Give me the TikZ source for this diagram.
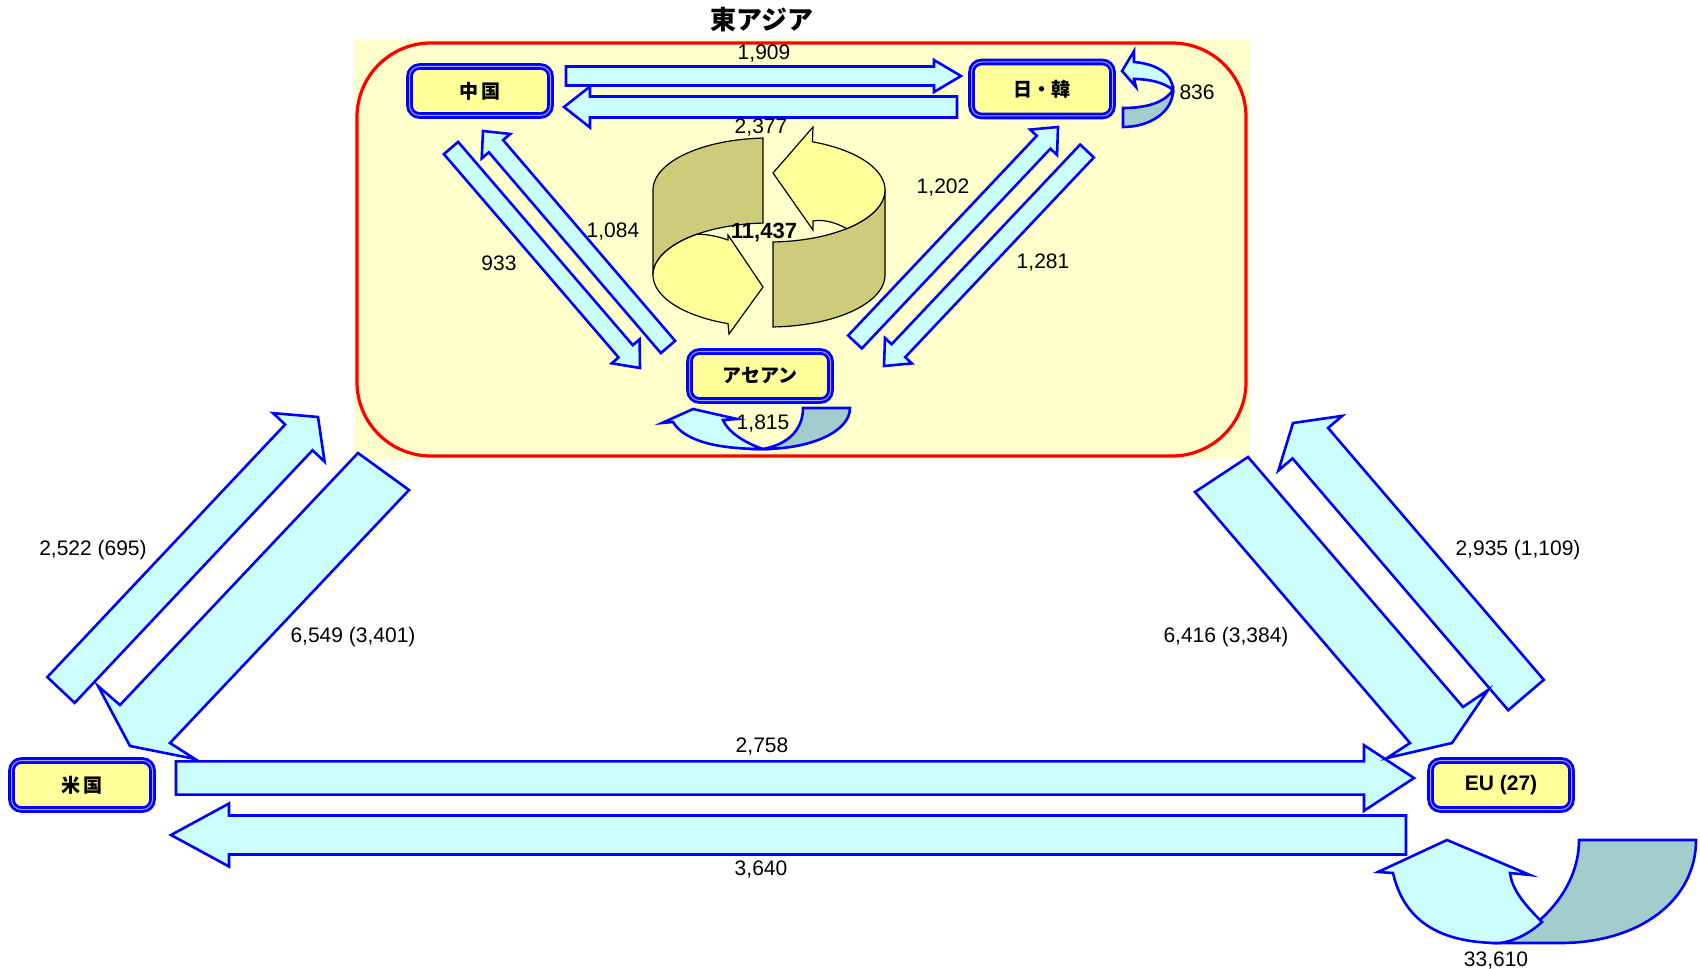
\documentclass[tikz,border=0pt]{standalone}
\usepackage{fontspec}
\setmainfont{Liberation Sans}
\newfontfamily\jpfont{Noto Sans CJK JP}
\usetikzlibrary{calc}
\definecolor{bgyel}{HTML}{FFFFCC}
\definecolor{boxyel}{HTML}{FFFF99}
\definecolor{flowcyan}{HTML}{CCFFFF}
\definecolor{loopteal}{HTML}{A3CCCC}
\definecolor{drum}{HTML}{CCCC7A}
\tikzset{
  cntry/.style={draw=blue,double=blue!35,double distance=0.5pt,line width=1.4pt,rounded corners=5pt,fill=boxyel,minimum width=70.5pt,minimum height=24.5pt,inner sep=0pt},
  jplbl/.style={font=\jpfont\bfseries\fontsize{9.5}{11}\selectfont},
  enlbl/.style={font=\bfseries\fontsize{10.5}{12}\selectfont},
  flow/.style={draw=blue,line width=1.3pt,fill=flowcyan,line join=miter},
  loopback/.style={draw=blue,line width=1.3pt,fill=loopteal},
  loopfront/.style={draw=blue,line width=1.3pt,fill=flowcyan},
  drumside/.style={draw=black,line width=0.6pt,fill=drum},
  drumtop/.style={draw=black,line width=0.6pt,fill=boxyel},
  num/.style={font=\fontsize{10.5}{12}\selectfont,inner sep=0pt}
}
% tail, tip, half shaft, half head, head length
\newcommand{\blockarr}[5]{%
  \coordinate (hb) at ($(#2)!#5!(#1)$);
  \draw[flow] ($(#1)!#3!90:(#2)$) -- ($(hb)!#3!90:(#2)$) -- ($(hb)!#4!90:(#2)$) -- (#2)
    -- ($(hb)!#4!-90:(#2)$) -- ($(hb)!#3!-90:(#2)$) -- ($(#1)!#3!-90:(#2)$) -- cycle;}

\begin{document}
\begin{tikzpicture}[x=0.5pt,y=-0.5pt]
  \useasboundingbox (0,0) rectangle (1700,968);
  \fill[bgyel] (354,39) rectangle (1250,459);
  \draw[red,line width=1.6pt,rounded corners=37pt] (357,43) rectangle (1246,456);
  \node[font=\jpfont\bfseries\fontsize{13}{15}\selectfont] (title) at (762,20) {東アジア};

  \coordinate (cj-s) at (566,76);   \coordinate (cj-e) at (961,76);
  \coordinate (jc-s) at (957,107);  \coordinate (jc-e) at (564,107);
  \coordinate (ca-s) at (451,148);  \coordinate (ca-e) at (640,368);
  \coordinate (ac-s) at (668,347);  \coordinate (ac-e) at (483,131);
  \coordinate (aj-s) at (855,342);  \coordinate (aj-e) at (1058,127);
  \coordinate (ja-s) at (1087,151); \coordinate (ja-e) at (884,366);
  \coordinate (ue-s) at (61,690);   \coordinate (ue-e) at (318,417);
  \coordinate (ee-s) at (1526,695); \coordinate (ee-e) at (1293,423);
  \coordinate (us-s) at (176,778);  \coordinate (us-e) at (1414,778);
  \coordinate (eu-s) at (1406,835); \coordinate (eu-e) at (171,835);

  \blockarr{cj-s}{cj-e}{4.75pt}{8pt}{13.5pt}
  \blockarr{jc-s}{jc-e}{5.25pt}{10.25pt}{13pt}
  \blockarr{ca-s}{ca-e}{4.7pt}{9.2pt}{11pt}
  \blockarr{ac-s}{ac-e}{4.7pt}{9.4pt}{10pt}
  \blockarr{aj-s}{aj-e}{4.7pt}{9.25pt}{10.5pt}
  \blockarr{ja-s}{ja-e}{4.7pt}{9.25pt}{10.5pt}
  \blockarr{ue-s}{ue-e}{9.4pt}{17.7pt}{14pt}
  \blockarr{ee-s}{ee-e}{11.7pt}{21pt}{13.3pt}
  \blockarr{us-s}{us-e}{8.3pt}{16.4pt}{25pt}
  \blockarr{eu-s}{eu-e}{9.75pt}{15.75pt}{29pt}

  \draw[flow] (358,453) -- (409,490) -- (170,743) -- (195,759) -- (130,746) -- (98,686) -- (120,705) -- cycle;
  \draw[flow] (1195,492) -- (1410,743) -- (1387,758) -- (1452,743) -- (1488,690) -- (1463,707) -- (1248,457) -- cycle;

  \draw[loopback] (1123,108) -- (1123,127) .. controls (1150,127) and (1173,112) .. (1173,90)
    .. controls (1165,102) and (1148,108) .. (1123,108) -- cycle;
  \draw[loopfront] (1134,62) .. controls (1158,64) and (1173,75) .. (1173,90)
    .. controls (1165,83) and (1150,79) .. (1134,79) -- (1136,87) -- (1122,71) -- (1134,51) -- cycle;

  \draw[loopback] (803,408) -- (850,408) .. controls (850,432) and (810,449) .. (763,449)
    .. controls (790,444) and (803,428) .. (803,408) -- cycle;
  \draw[loopfront] (673,422) .. controls (685,442) and (720,449) .. (763,449)
    .. controls (745,443) and (728,432) .. (723,420) -- (737,419) -- (693,409) -- (662,423) -- cycle;

  \draw[loopback] (1579,840) -- (1696,840) .. controls (1696,900) and (1640,943) .. (1560,943) -- (1500,943)
    .. controls (1530,935) and (1579,895) .. (1579,840) -- cycle;
  \draw[loopfront] (1393,873) .. controls (1405,925) and (1445,943) .. (1500,943)
    .. controls (1515,941) and (1530,933) .. (1542,922) .. controls (1525,905) and (1512,890) .. (1510,873)
    -- (1530,875) -- (1447,840) -- (1378,872) -- cycle;

  \draw[drumside] plot[domain=267:180,samples=30,variable=\t] ({769+116*cos(\t)},{190+52*sin(\t)})
    -- plot[domain=180:267,samples=30,variable=\t] ({769+116*cos(\t)},{275+52*sin(\t)}) -- cycle;
  \draw[drumtop] plot[domain=231.7:110.7,samples=40,variable=\t] ({769+116*cos(\t)},{275+52*sin(\t)})
    -- (729,334) -- (763,287) -- (728,235) -- (728,240) .. controls (717,236) and (705,234) .. (697,234.2) -- cycle;
  \draw[drumside] plot[domain=0:88,samples=30,variable=\t] ({769+116*cos(\t)},{190+52*sin(\t)})
    -- plot[domain=88:0,samples=30,variable=\t] ({769+116*cos(\t)},{275+52*sin(\t)}) -- cycle;
  \draw[drumtop] plot[domain=-68:48,samples=40,variable=\t] ({769+116*cos(\t)},{190+52*sin(\t)})
    .. controls (835,222) and (822,219) .. (813,221) -- (813,230) -- (773,173) -- (813,127) -- cycle;

  \node[cntry,jplbl] (china) at (480,91) {中\hspace{2pt}国};
  \node[cntry,jplbl,minimum height=27pt] (jk) at (1042,89) {日・韓};
  \node[cntry,jplbl] (asean) at (760,376) {アセアン};
  \node[cntry,jplbl] (usa) at (82,785) {米\hspace{2pt}国};
  \node[cntry,enlbl] (eu) at (1501,785) {EU (27)};

  \node[num] (n-cj) at (764,54) {1,909};
  \node[num] (n-jc) at (761,128) {2,377};
  \node[num] (n-ca) at (499,263) {933};
  \node[num] (n-ac) at (613,232) {1,084};
  \node[num] (n-aj) at (943,188) {1,202};
  \node[num] (n-ja) at (1043,263) {1,281};
  \node[num] (n-jj) at (1197,92) {836};
  \node[num] (n-aa) at (763,424) {1,815};
  \node[num,font=\bfseries\fontsize{11}{13}\selectfont] (n-all) at (764,233) {11,437};
  \node[num] (n-ue) at (93,550) {2,522 (695)};
  \node[num] (n-eu) at (353,637) {6,549 (3,401)};
  \node[num] (n-ae) at (1226,637) {6,416 (3,384)};
  \node[num] (n-ee) at (1518,550) {2,935 (1,109)};
  \node[num] (n-us) at (762,747) {2,758};
  \node[num] (n-ue2) at (761,870) {3,640};
  \node[num] (n-euu) at (1496,960) {33,610};
\end{tikzpicture}
\end{document}
